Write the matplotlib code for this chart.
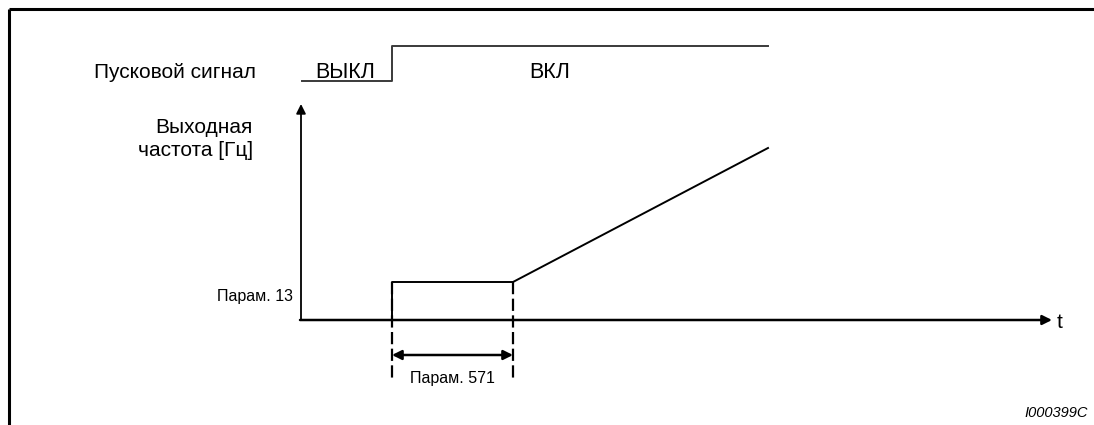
import matplotlib
matplotlib.use("Agg")
import matplotlib.pyplot as plt

plt.rcParams['font.family'] = ['Liberation Sans', 'DejaVu Sans']

# diagram geometry in pixel units (x to the right, y downwards)
W, H = 1094, 425

# start signal: OFF level then ON level
signal_x = [302, 392, 392, 768]
signal_y = [81, 81, 46, 46]

# output frequency: jumps to Param. 13, holds for Param. 571, then ramps up
output_x = [392, 392, 513, 768]
output_y = [320, 282, 282, 148]

axis_origin = (301, 320)
y_axis_top = 104
x_axis_end = 1052

hold_start = 392
hold_end = 513
dash_top = 282
dash_bottom = 382
dim_y = 355

fig = plt.figure(figsize=(W / 100, H / 100), dpi=100)
ax = fig.add_axes([0, 0, 1, 1])
ax.set_xlim(0, W)
ax.set_ylim(H, 0)
ax.axis('off')

# open frame (top and left only)
ax.plot([9, W], [9, 9], color='black', lw=2.2, solid_capstyle='butt')
ax.plot([9, 9], [9, H], color='black', lw=2.2, solid_capstyle='butt')

# start signal
ax.plot(signal_x, signal_y, color='#3a3a3a', lw=1.4)
ax.text(256, 72, 'Пусковой сигнал', ha='right', va='center', fontsize=15)
ax.text(345, 72, 'ВЫКЛ', ha='center', va='center', fontsize=15.5)
ax.text(550, 72, 'ВКЛ', ha='center', va='center', fontsize=15.5)

# axes with arrows
ax.annotate('', xy=(axis_origin[0], y_axis_top), xytext=axis_origin,
            arrowprops=dict(arrowstyle='-|>', color='black', lw=1.3,
                            mutation_scale=14, shrinkA=0, shrinkB=0))
ax.annotate('', xy=(x_axis_end, axis_origin[1]), xytext=(axis_origin[0] - 1, axis_origin[1]),
            arrowprops=dict(arrowstyle='-|>', color='black', lw=1.8,
                            mutation_scale=14, shrinkA=0, shrinkB=0))
ax.text(1057, 322, 't', ha='left', va='center', fontsize=15)
ax.text(253, 127, 'Выходная', ha='right', va='center', fontsize=15)
ax.text(253, 150, 'частота [Гц]', ha='right', va='center', fontsize=15)

# output frequency curve
ax.plot(output_x, output_y, color='black', lw=1.4)
ax.text(293, 297, 'Парам. 13', ha='right', va='center', fontsize=11.5)

# dashed markers and dimension arrow
for xd in (hold_start, hold_end):
    ax.plot([xd, xd], [dash_top, dash_bottom], color='black', lw=1.6,
            dashes=(5.5, 2))
ax.annotate('', xy=(hold_start, dim_y), xytext=(hold_end, dim_y),
            arrowprops=dict(arrowstyle='<|-|>', color='black', lw=1.8,
                            mutation_scale=14, shrinkA=0, shrinkB=0))
ax.text((hold_start + hold_end) / 2, 378, 'Парам. 571', ha='center',
        va='center', fontsize=11.5)

ax.text(1088, 413, 'I000399C', ha='right', va='center', fontsize=10.5,
        style='italic')

fig.savefig('out.png', dpi=100)
